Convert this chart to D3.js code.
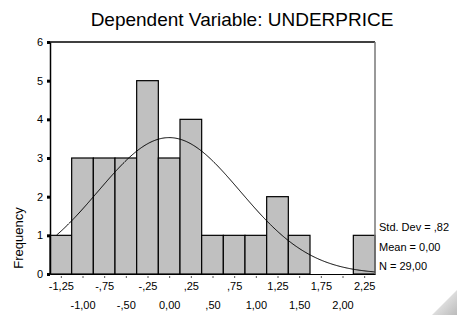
<!DOCTYPE html>
<html>
<head>
<meta charset="utf-8">
<script src="https://cdn.jsdelivr.net/npm/d3@7"></script>
<style>
  body { margin: 0; background: #fff; }
  text { font-family: "Liberation Sans", Arial, sans-serif; fill: #000; }
</style>
</head>
<body>
<svg width="457" height="315"></svg>
<script>
// Bin centres and counts
const binCenters = [-1.25, -1.00, -0.75, -0.50, -0.25, 0.00, 0.25, 0.50, 0.75, 1.00, 1.25, 1.50, 1.75, 2.00, 2.25];
const counts     = [1, 3, 3, 3, 5, 3, 4, 1, 1, 1, 2, 1, 0, 0, 1];
const tickLabels = ["-1,25", "-1,00", "-,75", "-,50", "-,25", "0,00", ",25", ",50", ",75", "1,00", "1,25", "1,50", "1,75", "2,00", "2,25"];
const yTicks = [0, 1, 2, 3, 4, 5, 6];
const stats = ["Std. Dev = ,82", "Mean = 0,00", "N = 29,00"];
const mean = 0, sd = 0.82, n = 29, binWidth = 0.25;

const svg = d3.select("svg");
const plotLeft = 50, plotRight = 375, plotTop = 42, plotBottom = 274;

const xScale = d3.scaleLinear()
  .domain([binCenters[0] - binWidth / 2, binCenters[binCenters.length - 1] + binWidth / 2])
  .range([plotLeft, plotRight]);

const yScale = d3.scaleLinear()
  .domain([0, 6])
  .range([plotBottom, plotTop]);

// Bars
svg.selectAll("rect.bar")
  .data(counts)
  .enter()
  .append("rect")
    .attr("class", "bar")
    .attr("x", (d, i) => xScale(binCenters[i] - binWidth / 2))
    .attr("y", d => yScale(d))
    .attr("width", xScale(binWidth) - xScale(0))
    .attr("height", d => plotBottom - yScale(d))
    .attr("fill", "#c0c0c0")
    .attr("stroke", "#000")
    .attr("stroke-width", 1.2);

// Frame
svg.append("line").attr("x1", plotLeft).attr("x2", plotRight).attr("y1", plotTop).attr("y2", plotTop)
  .attr("stroke", "#000").attr("stroke-width", 1.5);
svg.append("line").attr("x1", plotRight).attr("x2", plotRight).attr("y1", plotTop).attr("y2", plotBottom)
  .attr("stroke", "#777").attr("stroke-width", 1.5);

// Y axis
const yAxis = d3.axisLeft(yScale).tickValues(yTicks).tickSize(3).tickSizeOuter(0).tickFormat(d3.format("d"));
const gy = svg.append("g").attr("transform", `translate(${plotLeft},0)`).call(yAxis);
gy.select(".domain").attr("stroke", "#000").attr("stroke-width", 1.5);
gy.selectAll(".tick line").attr("stroke-width", 3);
gy.selectAll("text").style("font-size", "11px").attr("x", -7);

// X axis
const xAxis = d3.axisBottom(xScale).tickValues(binCenters).tickSize(2).tickSizeOuter(0)
  .tickFormat((d, i) => tickLabels[i]);
const gx = svg.append("g").attr("transform", `translate(0,${plotBottom})`).call(xAxis);
gx.select(".domain").attr("stroke", "#000").attr("stroke-width", 1.2);
gx.selectAll(".tick line").attr("transform", "translate(0,2)").attr("stroke", "#555");
gx.selectAll("text")
  .style("font-size", "11px")
  .attr("y", (d, i) => i % 2 === 0 ? 8 : 27)
  .attr("dy", "0.71em");

// Normal curve
const curveX = d3.range(-1.3, 2.375, 0.01);
const line = d3.line()
  .x(d => xScale(d))
  .y(d => yScale(n * binWidth * Math.exp(-0.5 * ((d - mean) / sd) ** 2) / (sd * Math.sqrt(2 * Math.PI))))
  .curve(d3.curveBasis);
svg.append("path")
  .datum(curveX)
  .attr("d", line)
  .attr("fill", "none")
  .attr("stroke", "#000")
  .attr("stroke-width", 1);

// Title
svg.append("text")
  .text("Dependent Variable: UNDERPRICE")
  .attr("x", 242)
  .attr("y", 26)
  .style("text-anchor", "middle")
  .style("font-size", "19px");

// Y label
svg.append("text")
  .text("Frequency")
  .attr("transform", "translate(23,238) rotate(-90)")
  .style("text-anchor", "middle")
  .style("font-size", "13px");

// Stats
svg.selectAll("text.stat")
  .data(stats)
  .enter()
  .append("text")
    .attr("class", "stat")
    .text(d => d)
    .attr("x", 379)
    .attr("y", (d, i) => 231 + i * 19.5)
    .style("font-size", "11px");

// faint resize grip in the corner
const grad = svg.append("defs").append("linearGradient")
  .attr("id", "grip").attr("x1", "0").attr("y1", "0").attr("x2", "1").attr("y2", "1");
grad.append("stop").attr("offset", "0").attr("stop-color", "#fff");
grad.append("stop").attr("offset", "1").attr("stop-color", "#bbb");
svg.append("polygon")
  .attr("points", "457,290 457,315 432,315")
  .attr("fill", "url(#grip)");
</script>
</body>
</html>
